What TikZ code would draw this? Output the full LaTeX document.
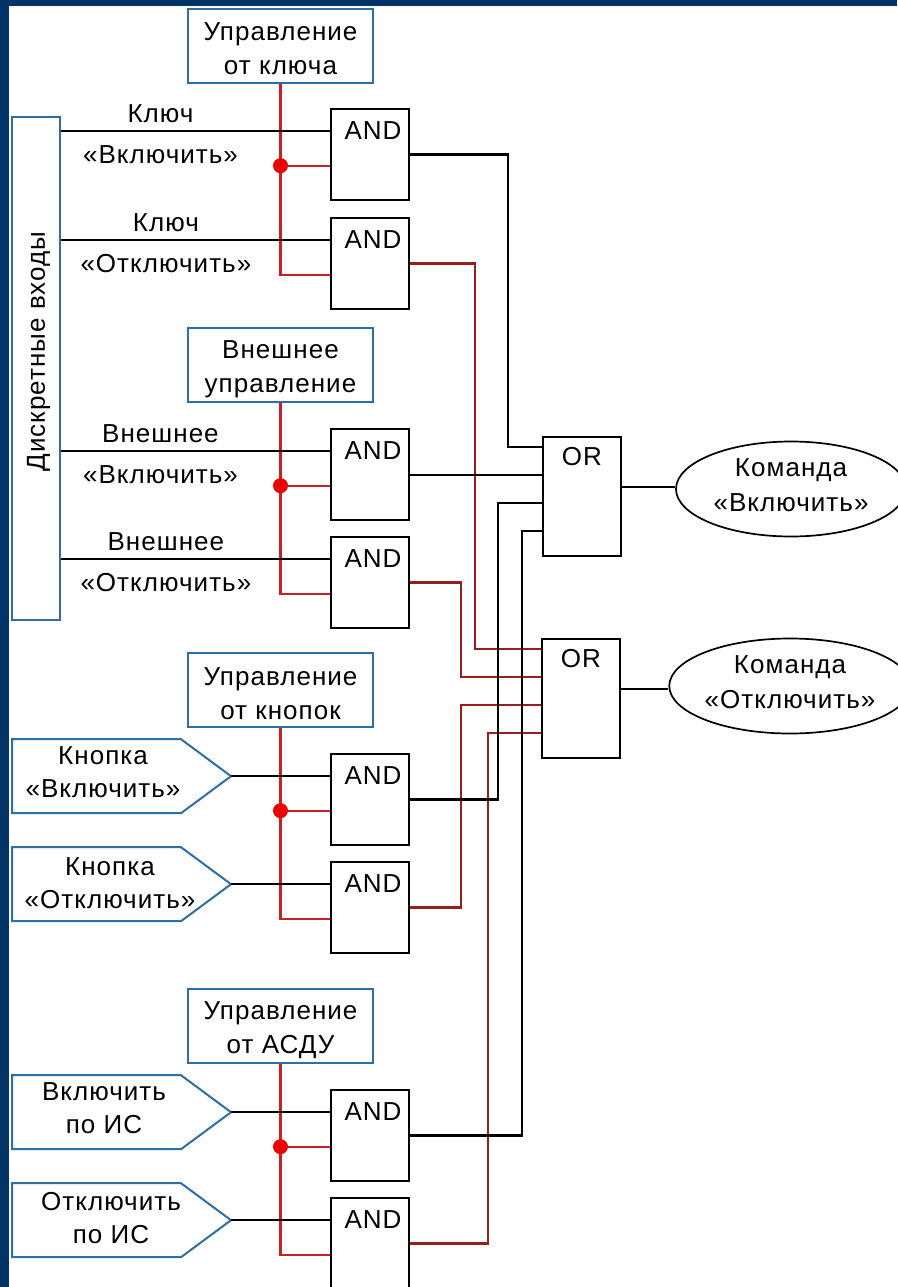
\documentclass[tikz,border=0pt]{standalone}
\usepackage{fontspec}
\setmainfont{Liberation Sans}
\newfontfamily\lab[LetterSpace=4]{Liberation Sans}
\usetikzlibrary{shapes.geometric,calc}
\definecolor{frame}{RGB}{0,51,102}
\definecolor{boxblue}{RGB}{46,110,165}
\definecolor{ctrlred}{RGB}{200,30,40}
\definecolor{outred}{RGB}{150,30,30}
\definecolor{dotred}{RGB}{235,0,0}
% line struts: box and label lines (height 27pt, depth 3pt), ellipse lines (height 20pt, depth 11pt)
\newcommand\bxs{\rule[-3pt]{0pt}{30pt}}
\newcommand\els{\rule[-11pt]{0pt}{31pt}}
\begin{document}
\begin{tikzpicture}[x=1pt,y=-1pt,
  ctrl/.style={draw=boxblue, line width=2pt, fill=white, minimum width=185pt,
    minimum height=74pt, inner sep=0pt, align=center,
    font=\fontsize{26pt}{34pt}\selectfont\lab},
  inbox/.style={draw=boxblue, line width=2pt, fill=white, minimum width=48pt,
    minimum height=503pt, inner sep=0pt, font=\fontsize{26pt}{34pt}\selectfont\lab},
  andtxt/.style={anchor=base, yshift=-32pt, xshift=3pt, inner sep=0pt,
    font=\fontsize{26pt}{30pt}\selectfont\lab},
  ortxt/.style={anchor=base, yshift=-30pt, inner sep=0pt,
    font=\fontsize{26pt}{30pt}\selectfont\lab},
  gate/.style={draw=black, line width=2.2pt, fill=white, minimum width=78pt,
    minimum height=91pt, inner sep=0pt, label={[andtxt]north:AND}},
  orgate/.style={draw=black, line width=2.2pt, fill=white, minimum width=78pt,
    minimum height=119pt, inner sep=0pt, label={[ortxt]north:OR}},
  cmd/.style={ellipse, draw=black, line width=1.7pt, fill=white, minimum width=230pt,
    minimum height=95pt, inner sep=0pt, align=center,
    font=\fontsize{26pt}{35pt}\selectfont\lab},
  term/.style={draw=boxblue, line width=2pt, fill=white, line join=miter},
  termtxt/.style={align=center, inner sep=0pt, font=\fontsize{26pt}{33pt}\selectfont\lab},
  pair/.style={align=center, inner sep=0pt, font=\fontsize{26pt}{40.5pt}\selectfont\lab},
  wire/.style={draw=black, line width=2.2pt},
  ctrlwire/.style={draw=ctrlred, line width=2.2pt},
  outwire/.style={draw=outred, line width=2.2pt},
  dot/.style={circle, fill=dotred, minimum size=15pt, inner sep=0pt}
]
% page and frame
\fill[white] (0,0) rectangle (897,1287);
\fill[frame] (0,0) rectangle (897,6);
\fill[frame] (0,0) rectangle (9,1287);
\useasboundingbox (0,0) rectangle (897,1287);

% discrete inputs block
\node[inbox] (din) at (36,368.5)
  {\rotatebox{90}{\raisebox{0pt}[\height][0pt]{\hspace*{34pt}Дискретные входы}}};

% control mode blocks
\node[ctrl] (k1) at (280.5,46)   {\bxs Управление\\\bxs от ключа};
\node[ctrl] (k2) at (280.5,365)  {\bxs Внешнее\\\bxs управление};
\node[ctrl] (k3) at (280.5,690)  {\bxs Управление\\\bxs от кнопок};
\node[ctrl] (k4) at (280.5,1026) {\bxs Управление\\\bxs от АСДУ};

% AND gates
\node[gate] (a1) at (370,154.5)  {};
\node[gate] (a2) at (370,263.5)  {};
\node[gate] (a3) at (370,474.5)  {};
\node[gate] (a4) at (370,582.5)  {};
\node[gate] (a5) at (370,799.5)  {};
\node[gate] (a6) at (370,907.5)  {};
\node[gate] (a7) at (370,1135.5) {};
\node[gate] (a8) at (370,1243.5) {};

% OR gates
\node[orgate] (o1) at (582,496.5) {};
\node[orgate] (o2) at (581,698.5) {};

% output commands
\node[cmd] (e1) at (791,489) {\els Команда\\\els «Включить»};
\node[cmd] (e2) at (790,686) {\els Команда\\\els «Отключить»};

% gate pins
\foreach \g in {a1,a2,a3,a4,a5,a6,a7,a8}{
  \coordinate (\g i1) at ($(\g.north west)!0.25!(\g.south west)$);
  \coordinate (\g i2) at ($(\g.north west)!0.62!(\g.south west)$);
}
\foreach \o in {o1,o2}{
  \foreach \k/\f in {1/0.092,2/0.322,3/0.552,4/0.782}{
    \coordinate (\o i\k) at ($(\o.north west)!\f!(\o.south west)$);
  }
  \coordinate (\o out) at ($(\o.north east)!0.42!(\o.south east)$);
}

% button and telecontrol terminals
\coordinate (tx) at (231,0);
\coordinate (t1) at (a5i1 -| tx);
\coordinate (t2) at (a6i1 -| tx);
\coordinate (t3) at (a7i1 -| tx);
\coordinate (t4) at (a8i1 -| tx);
\foreach \t in {t1,t2,t3,t4}{
  \draw[term] (\t) -- ++(-50,-37) -- ++(-169,0) -- ++(0,74) -- ++(169,0) -- cycle;
}
\node[termtxt] (t1l) at (103,768.5)  {\bxs Кнопка\\\bxs «Включить»};
\node[termtxt] (t2l) at (110,879.5)  {\bxs Кнопка\\\bxs «Отключить»};
\node[termtxt] (t3l) at (104,1104.5) {\bxs Включить\\\bxs по ИС};
\node[termtxt] (t4l) at (111,1214.5) {\bxs Отключить\\\bxs по ИС};

% enable lines from the control mode blocks
\draw[ctrlwire] (k1.south) |- (a2i2);
\draw[ctrlwire] (k2.south) |- (a4i2);
\draw[ctrlwire] (k3.south) |- (a6i2);
\draw[ctrlwire] (k4.south) |- (a8i2);
\draw[ctrlwire] (k1.south |- a1i2) -- (a1i2);
\draw[ctrlwire] (k2.south |- a3i2) -- (a3i2);
\draw[ctrlwire] (k3.south |- a5i2) -- (a5i2);
\draw[ctrlwire] (k4.south |- a7i2) -- (a7i2);

% command inputs
\draw[wire] (din.east |- a1i1) -- node[pair,pos=.37] (l1) {\bxs Ключ\\\bxs «Включить»} (a1i1);
\draw[wire] (din.east |- a2i1) -- node[pair,pos=.39] (l2) {\bxs Ключ\\\bxs «Отключить»} (a2i1);
\draw[wire] (din.east |- a3i1) -- node[pair,pos=.37] (l3) {\bxs Внешнее\\\bxs «Включить»} (a3i1);
\draw[wire] (din.east |- a4i1) -- node[pair,pos=.39] (l4) {\bxs Внешнее\\\bxs «Отключить»} (a4i1);
\draw[wire] (t1) -- (a5i1);
\draw[wire] (t2) -- (a6i1);
\draw[wire] (t3) -- (a7i1);
\draw[wire] (t4) -- (a8i1);

% junction dots
\node[dot] (d1) at (k1.south |- a1i2) {};
\node[dot] (d2) at (k2.south |- a3i2) {};
\node[dot] (d3) at (k3.south |- a5i2) {};
\node[dot] (d4) at (k4.south |- a7i2) {};

% routing to the OR gates
\coordinate (bx1) at (508,0);
\coordinate (bx3) at (498,0);
\coordinate (bx4) at (522,0);
\coordinate (rx1) at (475,0);
\coordinate (rx2) at (461,0);
\coordinate (rx4) at (488,0);
\draw[outwire] (a2.east) -| (rx1 |- o2i1) -- (o2i1);
\draw[outwire] (a4.east) -| (rx2 |- o2i2) -- (o2i2);
\draw[outwire] (a6.east) -| (rx2 |- o2i3) -- (o2i3);
\draw[outwire] (a8.east) -| (rx4 |- o2i4) -- (o2i4);
\draw[wire] (a1.east) -| (bx1 |- o1i1) -- (o1i1);
\draw[wire] (a3.east |- o1i2) -- (o1i2);
\draw[wire] (a5.east) -| (bx3 |- o1i3) -- (o1i3);
\draw[wire] (a7.east) -| (bx4 |- o1i4) -- (o1i4);

% OR outputs
\draw[wire] (o1out) -- (o1out -| e1.west);
\draw[wire] (o2out) -- (o2out -| e2.west);
\end{tikzpicture}
\end{document}
